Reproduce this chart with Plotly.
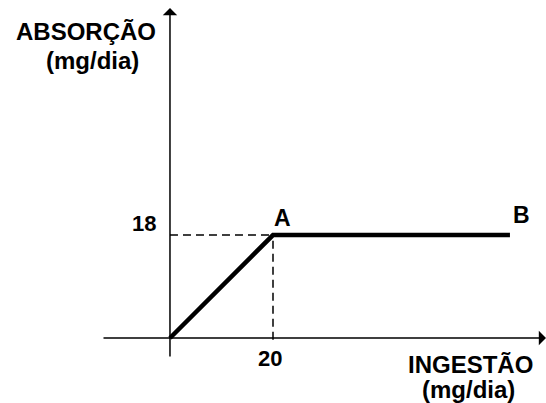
import plotly.graph_objects as go

# curve: ingestion (mg/dia) vs absorption (mg/dia)
ingestao = [0, 20, 66]
absorcao = [0, 18, 18]

# reference levels for the dashed guides
x_ref = 20
y_ref = 18

# axis extents
x_axis_start, x_axis_end = -13.2, 73.0
y_axis_start, y_axis_end = -3.5, 57.7

x_range = [-33.0, 73.0]
y_range = [-11.36, 59.09]

FONT = "Liberation Sans"

fig = go.Figure()

fig.add_trace(go.Scatter(
    x=ingestao, y=absorcao, mode="lines",
    line=dict(color="black", width=4.5),
    hoverinfo="skip", showlegend=False,
))

# dashed guides
fig.add_shape(type="line", x0=0, x1=x_ref, y0=y_ref, y1=y_ref,
              line=dict(color="black", width=1.5, dash="8px,5px"))
fig.add_shape(type="line", x0=x_ref, x1=x_ref, y0=-0.3, y1=y_ref,
              line=dict(color="black", width=1.5, dash="8px,5px"))

# axes with arrowheads
fig.add_annotation(x=x_axis_end, y=0, ax=x_axis_start, ay=0,
                   xref="x", yref="y", axref="x", ayref="y",
                   showarrow=True, arrowhead=1, arrowsize=1.6,
                   arrowwidth=1.5, arrowcolor="black", text="")
fig.add_annotation(x=0, y=y_axis_end, ax=0, ay=y_axis_start,
                   xref="x", yref="y", axref="x", ayref="y",
                   showarrow=True, arrowhead=1, arrowsize=1.6,
                   arrowwidth=1.5, arrowcolor="black", text="")

def label(text, x, y, size, xanchor="center", xref="x", yref="y"):
    fig.add_annotation(x=x, y=y, xref=xref, yref=yref, text=text,
                       showarrow=False, xanchor=xanchor, yanchor="middle",
                       font=dict(family=FONT, size=size, color="black",
                                 weight="bold"))

label("18", -2.3, 20.1, 22, xanchor="right")
label("20", 19.4, -3.5, 22)
label("A", 21.8, 21.0, 23)
label("B", 68.3, 21.5, 23)

label("ABSORÇÃO", 86 / 546, 1 - 32 / 403, 24, xref="paper", yref="paper")
label("(mg/dia)", 92 / 546, 1 - 61 / 403, 24, xref="paper", yref="paper")
label("INGESTÃO", 470 / 546, 1 - 364 / 403, 24, xref="paper", yref="paper")
label("(mg/dia)", 469 / 546, 1 - 389 / 403, 24, xref="paper", yref="paper")

fig.update_xaxes(range=x_range, visible=False, fixedrange=True)
fig.update_yaxes(range=y_range, visible=False, fixedrange=True)
fig.update_layout(
    width=546, height=403,
    margin=dict(l=0, r=0, t=0, b=0),
    plot_bgcolor="white", paper_bgcolor="white",
    showlegend=False,
)

fig.write_html("out.html", config={"displayModeBar": False},
               post_script="document.body.style.margin='0';")
